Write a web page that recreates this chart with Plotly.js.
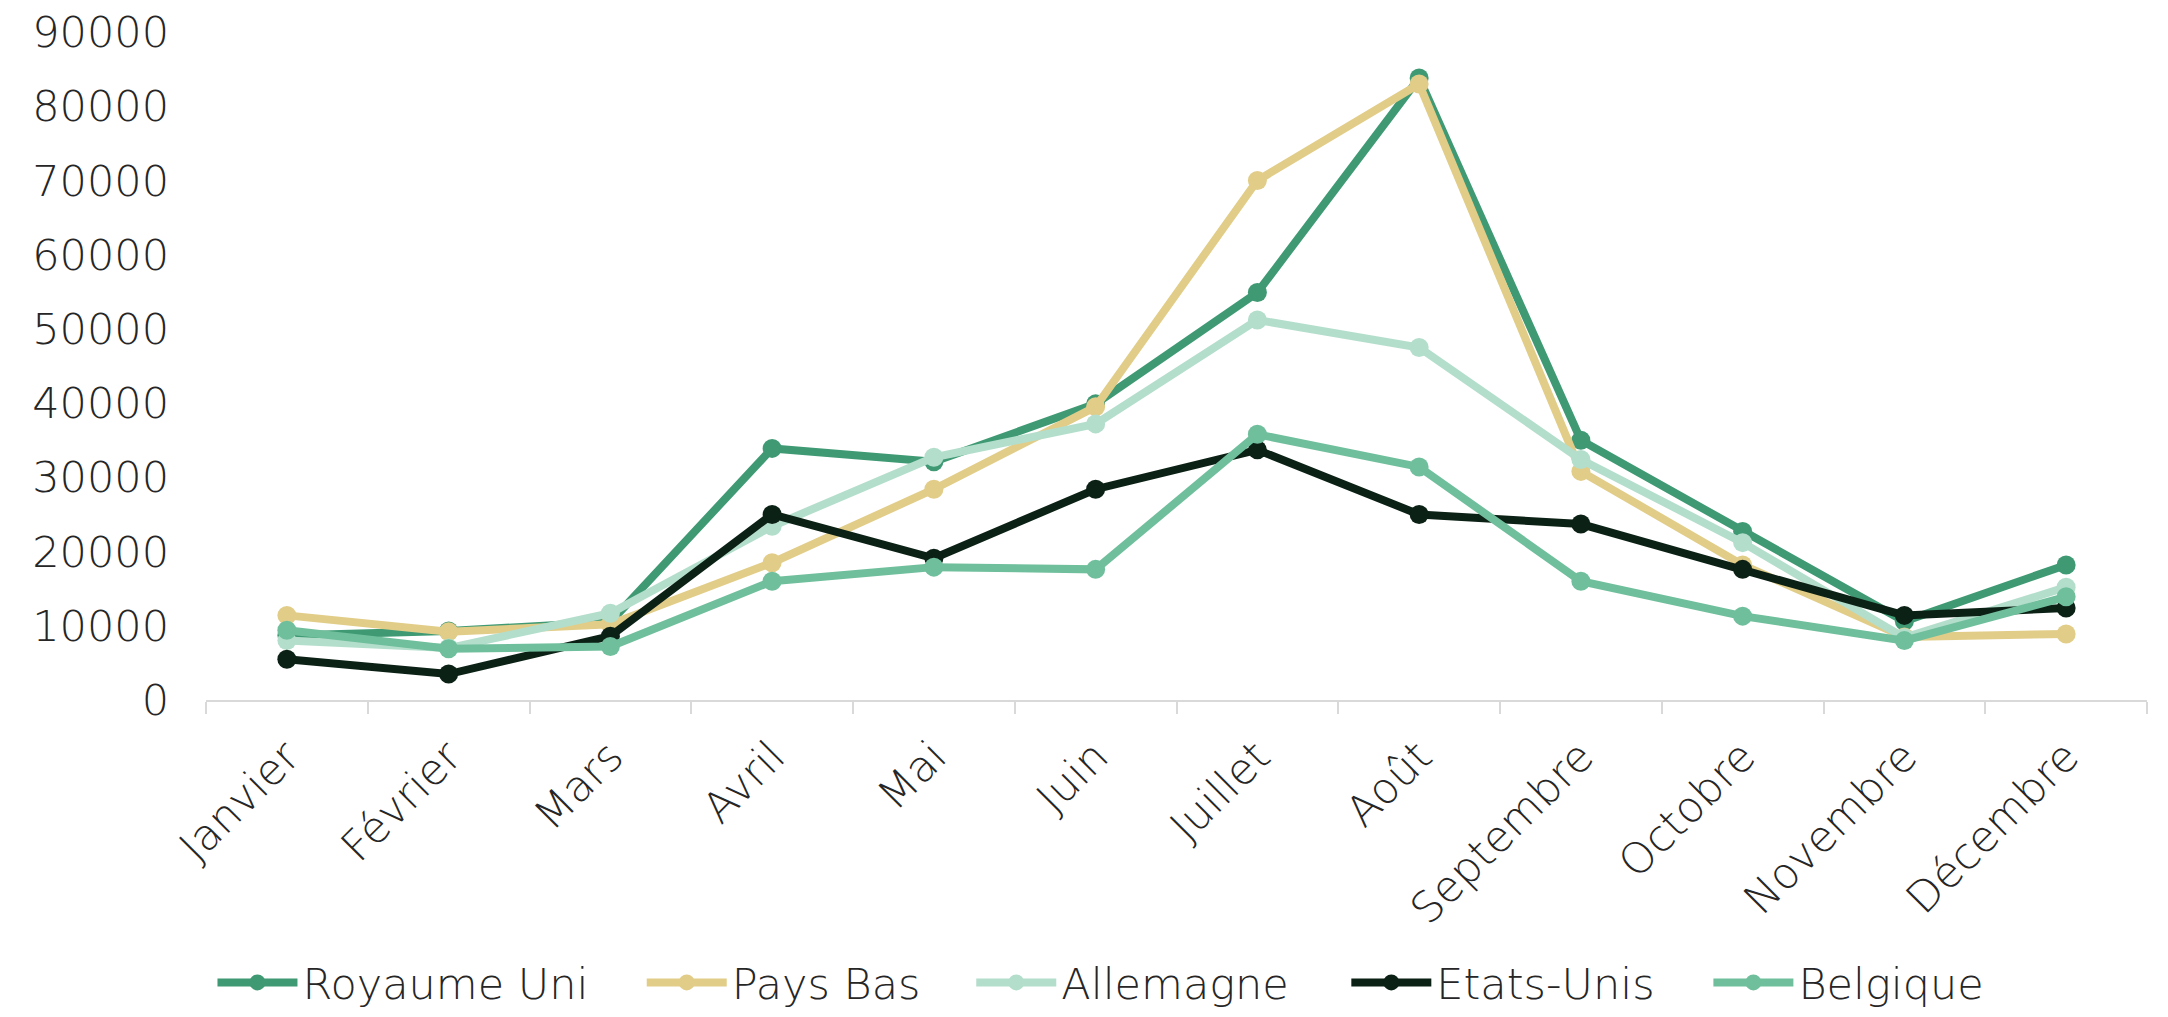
<!DOCTYPE html>
<html>
<head>
<meta charset="utf-8">
<script src="https://cdn.plot.ly/plotly-3.0.1.min.js"></script>
<style>
  html, body { margin: 0; padding: 0; background: #ffffff; }
  #chart { width: 2168px; height: 1017px; }
</style>
</head>
<body>
<div id="chart"></div>
<script>
const months = ["Janvier", "Février", "Mars", "Avril", "Mai", "Juin", "Juillet", "Août", "Septembre", "Octobre", "Novembre", "Décembre"];

const royaumeUni = [8700, 9300, 10500, 33900, 32100, 39900, 54900, 83800, 35000, 22700, 10600, 18200];
const paysBas    = [11400, 9200, 10200, 18500, 28400, 39500, 70000, 83000, 30800, 18200, 8500, 8900];
const allemagne  = [8000, 7000, 11700, 23400, 32700, 37200, 51200, 47500, 32400, 21200, 8400, 15200];
const etatsUnis  = [5500, 3500, 8600, 25000, 19100, 28400, 33700, 25000, 23700, 17600, 11400, 12400];
const belgique   = [9400, 6900, 7200, 16000, 17900, 17600, 35800, 31400, 16000, 11300, 8000, 13900];

const yTicks = [0, 10000, 20000, 30000, 40000, 50000, 60000, 70000, 80000, 90000];

const seriesNames = ["Royaume Uni", "Pays Bas", "Allemagne", "Etats-Unis", "Belgique"];
const seriesValues = [royaumeUni, paysBas, allemagne, etatsUnis, belgique];
const seriesColors = ["#3F9A74", "#E2CD88", "#B4DECC", "#0C2116", "#70BF9C"];

const FONT = "DejaVu Sans, sans-serif";
const TEXT = "#262626";
const FS = 43;

// left edge (container fraction) of each legend entry
const legendX = [0.098, 0.296, 0.448, 0.621, 0.788];
const legendIds = ["legend", "legend2", "legend3", "legend4", "legend5"];

const traces = seriesNames.map((name, i) => ({
  type: "scatter",
  mode: "lines+markers",
  name: name,
  x: months,
  y: seriesValues[i],
  legend: legendIds[i],
  line: { color: seriesColors[i], width: 8 },
  marker: { color: seriesColors[i], size: 19 },
  cliponaxis: false
}));

const layout = {
  width: 2168,
  height: 1017,
  paper_bgcolor: "#ffffff",
  plot_bgcolor: "#ffffff",
  margin: { l: 206, r: 21, t: 32, b: 317, autoexpand: false },
  font: { family: FONT, size: FS, color: TEXT, weight: 300 },
  showlegend: true,
  xaxis: {
    type: "category",
    categoryorder: "array",
    categoryarray: months,
    range: [-0.5, 11.5],
    automargin: false,
    showgrid: false,
    zeroline: false,
    showline: true,
    linecolor: "#D9D9D9",
    linewidth: 2,
    ticks: "outside",
    tickson: "boundaries",
    ticklen: 12,
    tickwidth: 2,
    tickcolor: "#D9D9D9",
    tickangle: -45,
    ticklabelstandoff: 12,
    tickfont: { family: FONT, size: FS, color: TEXT, weight: 300 }
  },
  yaxis: {
    range: [0, 90000],
    tickvals: yTicks,
    ticktext: yTicks.map(String),
    automargin: false,
    showgrid: false,
    zeroline: false,
    showline: false,
    ticks: "",
    ticklabelstandoff: 36,
    tickfont: { family: FONT, size: FS, color: TEXT, weight: 300 }
  }
};

legendIds.forEach((id, i) => {
  layout[id] = {
    orientation: "h",
    xref: "container",
    yref: "container",
    x: legendX[i],
    xanchor: "left",
    y: 0,
    yanchor: "bottom",
    font: { family: FONT, size: FS, color: TEXT, weight: 300 },
    itemwidth: 80,
    bgcolor: "rgba(0,0,0,0)"
  };
});

Plotly.newPlot("chart", traces, layout, { displayModeBar: false, responsive: false });
</script>
</body>
</html>
